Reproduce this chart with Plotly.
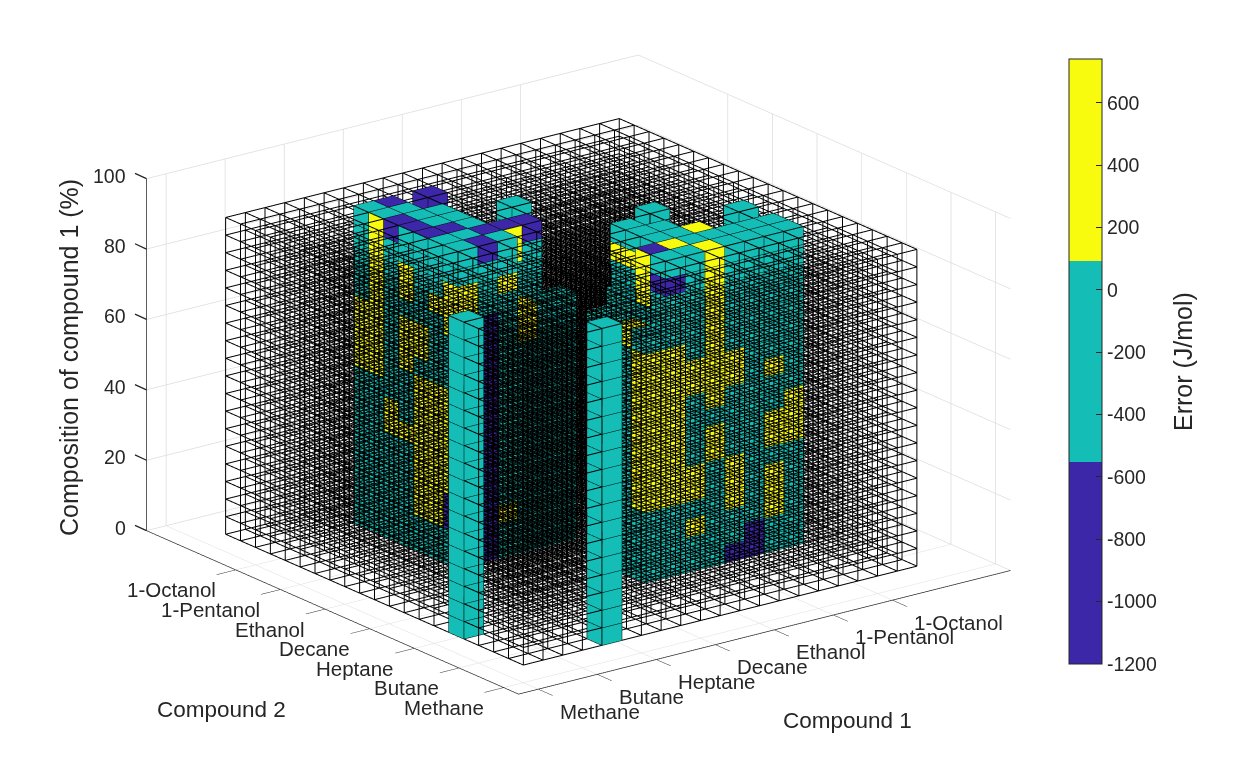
import numpy as np
import plotly.graph_objects as go

COMPOUNDS = ["Methane", "Butane", "Heptane", "Decane", "Ethanol", "1-Pentanol", "1-Octanol"]
COMPOUND_TICKS = [0, 3, 6, 9, 12, 15, 18]
Z_TICKS = [0, 20, 40, 60, 80, 100]
CB_TICKS = [-1200, -1000, -800, -600, -400, -200, 0, 200, 400, 600]
CB_LABELS = ["-1200", "-1000", "-800", "-600", "-400", "-200", "0", "200", "400", "600"]
ERROR_RANGE = [-1200, 741]
VALUE = {"B": -900, "T": -230, "Y": 420}

GRID_CELLS = 20
Z_LEVELS = [5 + 5 * k for k in range(19)]

# top colour of the voxel columns, {y: {x: class}}
TOP_LEFT = {
    17: {5: "T", 6: "B", 8: "B"},
    16: {5: "T", 6: "T"},
    15: {5: "B", 6: "T", 7: "T"},
    14: {5: "B", 6: "T", 7: "T", 10: "T"},
    13: {5: "B", 6: "B", 7: "T"},
    12: {5: "T", 6: "T", 7: "B", 8: "B", 9: "B"},
    11: {5: "T", 6: "B", 7: "T"},
}
TOP_RIGHT = {
    10: {14: "T"},
    9: {12: "T"},
    8: {12: "T", 13: "T", 17: "T"},
    7: {12: "T", 13: "T", 14: "Y"},
    6: {11: "B", 12: "Y", 13: "T", 14: "T", 15: "T", 16: "T", 17: "T"},
    5: {11: "T", 12: "T", 13: "Y", 14: "T", 15: "T", 16: "T", 17: "T"},
}
PILLARS = [(0, 4), (4, 0)]
# partial columns (x, y, first layer from the top)
PARTIAL = [(10, 5, 4), (10, 6, 4), (10, 7, 4), (10, 8, 4), (11, 7, 3), (11, 8, 3),
           (8, 11, 4), (9, 11, 4), (10, 11, 4), (10, 12, 6), (10, 13, 6),
           (8, 13, 6), (9, 13, 6), (8, 14, 6), (9, 14, 6), (8, 15, 6), (8, 16, 6),
           (7, 16, 6), (7, 17, 6), (15, 7, 6), (16, 7, 6), (17, 7, 6),
           (14, 8, 6), (15, 8, 6), (16, 8, 6), (13, 9, 6), (14, 9, 6), (13, 10, 6)]

# visible faces, one string per layer from the top
RIGHT_FRONT_X = [10, 11, 12, 13, 14, 15, 16, 17]   # plane y = 5
RIGHT_FRONT = ["TTTYTTTT", "TBTYTTTT", "TTTYTTTT", "TTTYTTTT", "TTTYTTTT", "YYTYTTTT",
               "YYYYYTTT", "YYYYYTYT", "YYTYTTTT", "YYTTTTTY", "YYTYTTYY", "YYTYTTYY",
               "YYYTYTTT", "YYYTYTYT", "TTTTYTYT", "TTYTTTYT", "TTTTTBTT", "TTTTBBTT"]
RIGHT_SIDE_Y = [8, 7, 6, 5]                         # plane x = 10
RIGHT_SIDE = ["TTTT", "TTTT", "TTTT", "TTTT", "TTYT", "TTTB", "TTTB", "TTTB", "TTTB",
              "TTTB", "TTTB", "TTTB", "TTTB", "TTTB", "TTTB", "TTTB", "TTTB", "TTTB"]
LEFT_SIDE_Y = [17, 16, 15, 14, 13, 12, 11]          # plane x = 5
LEFT_SIDE = ["TYBTTTT", "TYTTTTT", "TYTYTTY", "TYTYTYY", "TYTTTTY", "YYTYYTT",
             "YYTYYTT", "YYTYTTT", "YYTTYYY", "TTTTYYY", "TTYTYYY", "TTYYYYY",
             "TTTTYYY", "TTTTYYY", "TTTTYYB", "TTTTYYB", "TTTTTTT", "TTTTTTT"]
LEFT_FRONT_X = [5, 6, 7, 8, 9, 10]                  # plane y = 11
LEFT_FRONT = ["TBTTTT", "TTTTTT", "YTYTTT", "YTTTTT", "YBTYTT", "TBTYTT",
              "TBTTTT", "TBTTTT", "YBTTTT", "YBTTTT", "YBTTTT", "YBTTTT",
              "YBTTTT", "TBTTTT", "TBTTTT", "TBYTTT", "TBTTTT", "TBTTTT"]
# single voxel colours seen behind the top row: (x, y, first layer, last layer, class)
PATCHES = [(11, 6, 0, 2, "Y"), (12, 8, 1, 1, "Y"), (12, 9, 1, 1, "Y"),
           (8, 12, 0, 1, "Y"), (8, 17, 0, 17, "B"), (6, 17, 0, 0, "B")]

LAYERS = len(Z_LEVELS) - 1

# ---- build voxels
columns = {}
for tops in (TOP_LEFT, TOP_RIGHT):
    for y, row in tops.items():
        for x, c in row.items():
            columns[(x, y)] = 0
for p in PILLARS:
    columns[p] = 0
for x, y, k in PARTIAL:
    columns[(x, y)] = k

vox = {}
for (x, y), k0 in columns.items():
    for k in range(k0, LAYERS):
        vox[(x, y, k)] = "T"
for tops in (TOP_LEFT, TOP_RIGHT):
    for y, row in tops.items():
        for x, c in row.items():
            vox[(x, y, 0)] = c
for k, s in enumerate(RIGHT_SIDE):
    for y, c in zip(RIGHT_SIDE_Y, s):
        if (10, y, k) in vox:
            vox[(10, y, k)] = c
for k, s in enumerate(LEFT_FRONT):
    for x, c in zip(LEFT_FRONT_X, s):
        if (x, 11, k) in vox:
            vox[(x, 11, k)] = c
for k, s in enumerate(LEFT_SIDE):
    for y, c in zip(LEFT_SIDE_Y, s):
        if (5, y, k) in vox:
            vox[(5, y, k)] = c
for k, s in enumerate(RIGHT_FRONT):
    for x, c in zip(RIGHT_FRONT_X, s):
        if (x, 5, k) in vox:
            vox[(x, 5, k)] = c
for x, y, k0, k1, c in PATCHES:
    for k in range(k0, k1 + 1):
        if (x, y, k) in vox:
            vox[(x, y, k)] = c

top_colour = {}
for tops in (TOP_LEFT, TOP_RIGHT):
    for y, row in tops.items():
        for x, c in row.items():
            top_colour[(x, y)] = c

FACES = [((-1, 0, 0), [(0, 0, 0), (0, 1, 0), (0, 1, 1), (0, 0, 1)]),
         ((1, 0, 0), [(1, 0, 0), (1, 1, 0), (1, 1, 1), (1, 0, 1)]),
         ((0, -1, 0), [(0, 0, 0), (1, 0, 0), (1, 0, 1), (0, 0, 1)]),
         ((0, 1, 0), [(0, 1, 0), (1, 1, 0), (1, 1, 1), (0, 1, 1)]),
         ((0, 0, -1), [(0, 0, 1), (1, 0, 1), (1, 1, 1), (0, 1, 1)]),  # upward
         ((0, 0, 1), [(0, 0, 0), (1, 0, 0), (1, 1, 0), (0, 1, 0)])]
vx, vy, vz, ti, tj, tk, inten = [], [], [], [], [], [], []
dz = Z_LEVELS[1] - Z_LEVELS[0]
for (x, y, k), c in vox.items():
    z0 = Z_LEVELS[-1] - dz * (k + 1)
    for (dx, dy, dk), quad in FACES:
        if (x + dx, y + dy, k + dk) in vox:
            continue
        n = len(vx)
        for a, b, h in quad:
            vx.append(x + a); vy.append(y + b); vz.append(z0 + h * dz)
        ti += [n, n]; tj += [n + 1, n + 2]; tk += [n + 2, n + 3]
        col = c
        if dk == -1 and k == 0 and (x, y) in top_colour:
            col = top_colour[(x, y)]
        inten += [VALUE[col], VALUE[col]]

# ---- wire frame
wx, wy, wz = [], [], []
gx = list(range(GRID_CELLS + 1))
for a in gx:
    for z in Z_LEVELS:
        wx += [gx[0], gx[-1], None]; wy += [a, a, None]; wz += [z, z, None]
        wx += [a, a, None]; wy += [gx[0], gx[-1], None]; wz += [z, z, None]
    for b in gx:
        wx += [a, a, None]; wy += [b, b, None]; wz += [Z_LEVELS[0], Z_LEVELS[-1], None]

BLUE, TEAL, YEL = "#3B27A8", "#14BDB5", "#F9FB0E"
scale = [[0, BLUE], [1/3, BLUE], [1/3, TEAL], [2/3, TEAL], [2/3, YEL], [1, YEL]]

fig = go.Figure()
fig.add_trace(go.Mesh3d(
    x=vx, y=vy, z=vz, i=ti, j=tj, k=tk, intensity=inten, intensitymode="cell",
    colorscale=scale, cmin=ERROR_RANGE[0], cmax=ERROR_RANGE[1], flatshading=True,
    lighting=dict(ambient=1, diffuse=0, specular=0, fresnel=0, roughness=1),
    hoverinfo="skip",
    colorbar=dict(x=1069/1250, xanchor="left", xpad=0, ypad=0, y=1-361.5/781, yanchor="middle",
                  thickness=33, thicknessmode="pixels", len=605, lenmode="pixels",
                  tickvals=CB_TICKS, ticktext=CB_LABELS, ticks="inside", ticklen=6, tickcolor="#262626", tickwidth=1,
                  tickfont=dict(family="Liberation Sans", size=19.5, color="#262626"),
                  outlinecolor="#262626", outlinewidth=1, borderwidth=0)))
fig.add_trace(go.Scatter3d(x=wx, y=wy, z=wz, mode="lines", line=dict(color="black", width=2),
                           hoverinfo="skip", showlegend=False))

tick_font = dict(family="Liberation Sans", size=20.5, color="#262626")
z_font = dict(family="Liberation Sans", size=19.5, color="#262626")
annotations = []
for t, lab in zip(COMPOUND_TICKS, COMPOUNDS):
    annotations.append(dict(x=t, y=-1, z=0, text=lab, showarrow=False, xanchor="left", yanchor="middle",
                            xshift=20, yshift=-22, font=tick_font))
    annotations.append(dict(x=-1, y=t, z=0, text=lab, showarrow=False, xanchor="right", yanchor="middle",
                            xshift=-18, yshift=-20, font=tick_font))
for z in Z_TICKS:
    annotations.append(dict(x=-1, y=24, z=z, text=str(z), showarrow=False, xanchor="right", yanchor="middle",
                            xshift=-18, yshift=3, font=z_font))
    annotations.append(dict(x=-1, y=24, z=z, text=" ", showarrow=True, arrowhead=0, arrowwidth=1.3,
                            arrowcolor="#262626", ax=-13, ay=-6, standoff=0, font=dict(size=1)))

axis = dict(showbackground=False, showgrid=True, gridcolor="#dcdcdc", gridwidth=1.5, zeroline=False,
            showline=True, linecolor="#262626", linewidth=1.5, ticks="outside", ticklen=24,
            tickcolor="#262626", tickwidth=1.5, showticklabels=False, showspikes=False, title=dict(text=""))
a, e = np.radians(37.1), np.radians(19.3)
EYE_R = 2.0
ZOOM = 1.6405
title_font = dict(family="Liberation Sans", size=22.5, color="#262626")
title_font_v = dict(family="Liberation Sans", size=25, color="#262626")
title = lambda text, px, py, font, **kw: dict(text=text, x=px/1250, y=1-py/781, xref="paper", yref="paper",
                                              xanchor="center", yanchor="middle", showarrow=False, font=font, **kw)
fig.update_layout(
    width=1250, height=781, paper_bgcolor="white", margin=dict(l=0, r=0, t=0, b=0, autoexpand=False),
    scene=dict(
        domain=dict(x=[0, 2*578.5/1250], y=[1-2*376/781, 1]),
        xaxis=dict(axis, range=[-1, 24], tickvals=COMPOUND_TICKS),
        yaxis=dict(axis, range=[-1, 24], tickvals=COMPOUND_TICKS),
        zaxis=dict(axis, range=[0, 100], tickvals=Z_TICKS, ticks=""),
        aspectmode="manual", aspectratio=dict(x=ZOOM, y=ZOOM, z=ZOOM*0.605),
        camera=dict(projection=dict(type="orthographic"), up=dict(x=0, y=0, z=1),
                    center=dict(x=0, y=0, z=-0.004),
                    eye=dict(x=-EYE_R*np.sin(a)*np.cos(e), y=-EYE_R*np.cos(a)*np.cos(e), z=EYE_R*np.sin(e))),
        annotations=annotations),
    annotations=[
        title("Compound 2", 221, 709, title_font),
        title("Compound 1", 847, 720, title_font),
        title("Composition of compound 1 (%)", 69, 358, title_font_v, textangle=-90),
        title("Error (J/mol)", 1183, 362, title_font_v, textangle=-90),
    ],
)
fig.write_html("out.html", config=dict(displayModeBar=False),
               post_script="document.body.style.margin='0';")
